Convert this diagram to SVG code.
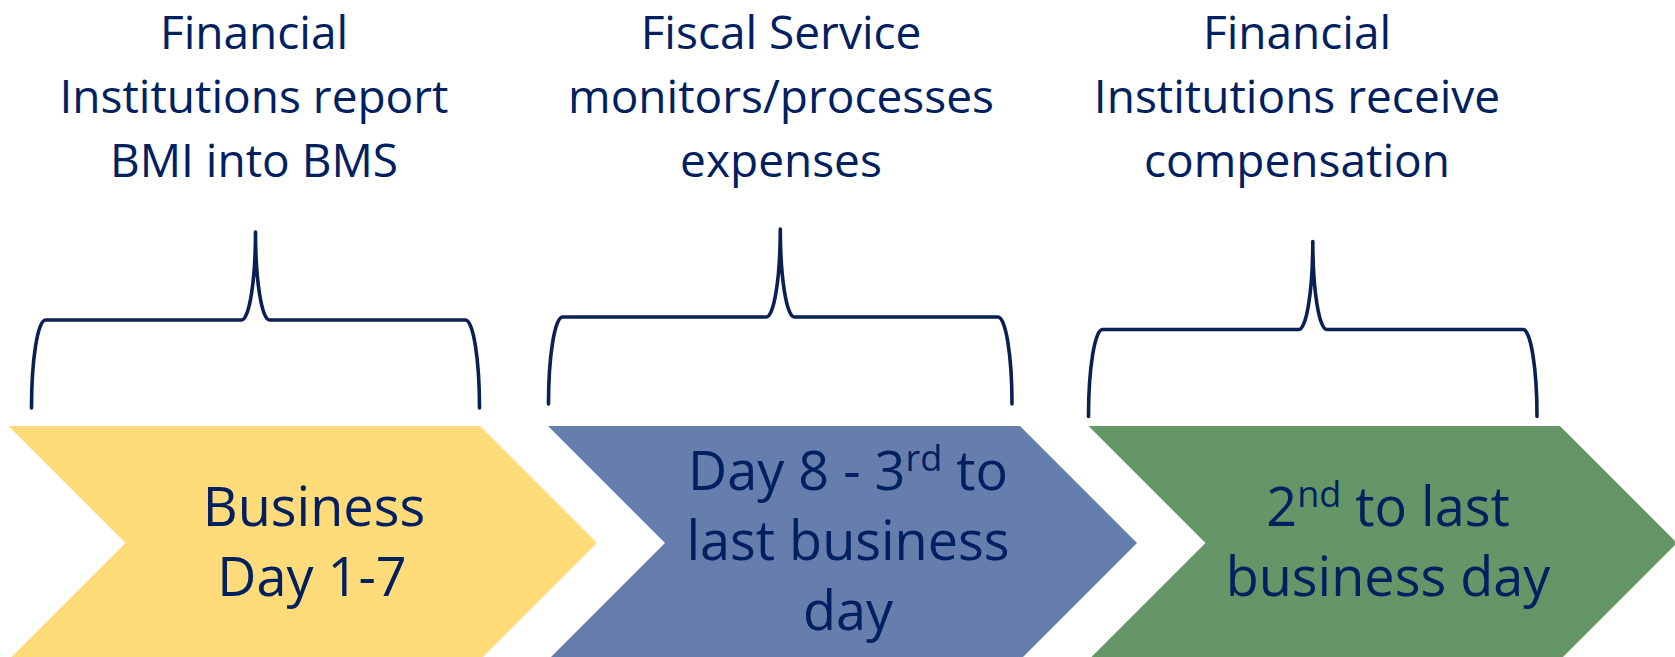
<svg xmlns="http://www.w3.org/2000/svg" width="1675" height="657" viewBox="0 0 1675 657">
  <style>
    .lbl { font-family: "Open Sans", "Liberation Sans", sans-serif; fill: #002060; text-anchor: middle; }
    .top { font-size: 46px; }
    .step { font-size: 54px; }
    .sup { font-size: 36px; }
    .brace { fill: none; stroke: #0a1f52; stroke-width: 3.6; stroke-linecap: round; stroke-linejoin: round; }
    .yellow { fill: #ffdb7a; }
    .blue { fill: #667eae; }
    .green { fill: #649667; }
  </style>

  <!-- step 1 -->
  <g id="step1">
    <polygon class="yellow" points="8.5,426 480,426 597,543 480,660 8.5,660 125.5,543"/>
    <text class="lbl step" x="314" y="526">Business</text>
    <text class="lbl step" x="312" y="596">Day 1-7</text>
  </g>

  <!-- step 2 -->
  <g id="step2">
    <polygon class="blue" points="548,426 1020,426 1137,543 1020,660 548,660 665,543"/>
    <text class="lbl step" x="848" y="490">Day 8 - 3<tspan class="sup" dy="-19">rd</tspan><tspan dy="19"> to</tspan></text>
    <text class="lbl step" x="848" y="560">last business</text>
    <text class="lbl step" x="848" y="630">day</text>
  </g>

  <!-- step 3 -->
  <g id="step3">
    <polygon class="green" points="1088.5,426 1560,426 1677,543 1560,660 1088.5,660 1205.5,543"/>
    <text class="lbl step" x="1388" y="526">2<tspan class="sup" dy="-19">nd</tspan><tspan dy="19"> to last</tspan></text>
    <text class="lbl step" x="1388" y="596">business day</text>
  </g>

  <!-- captions above each brace -->
  <g id="caption1">
    <text class="lbl top" x="254" y="48.5">Financial</text>
    <text class="lbl top" x="254" y="112.5">Institutions report</text>
    <text class="lbl top" x="254" y="176.5">BMI into BMS</text>
  </g>
  <g id="caption2">
    <text class="lbl top" x="781" y="48.5">Fiscal Service</text>
    <text class="lbl top" x="781" y="112.5">monitors/processes</text>
    <text class="lbl top" x="781" y="176.5">expenses</text>
  </g>
  <g id="caption3">
    <text class="lbl top" x="1297" y="48.5">Financial</text>
    <text class="lbl top" x="1297" y="112.5">Institutions receive</text>
    <text class="lbl top" x="1297" y="176.5">compensation</text>
  </g>

  <!-- braces linking captions to steps -->
  <g id="connectors">
    <path class="brace" d="M31.5,408 A14 88 0 0 1 45.5,320 L241.5,320 A14 88 0 0 0 255.5,232 A14 88 0 0 0 269.5,320 L465.5,320 A14 88 0 0 1 479.5,408"/>
    <path class="brace" d="M548.5,404 A14 87 0 0 1 562.5,317 L766.3,317 A14 88 0 0 0 780.3,229 A14 88 0 0 0 794.3,317 L998,317 A14 87 0 0 1 1012,404"/>
    <path class="brace" d="M1088.5,416.5 A14 87 0 0 1 1102.5,329.5 L1298.8,329.5 A14 88 0 0 0 1312.8,241.5 A14 88 0 0 0 1326.8,329.5 L1523,329.5 A14 87 0 0 1 1537,416.5"/>
  </g>
</svg>
